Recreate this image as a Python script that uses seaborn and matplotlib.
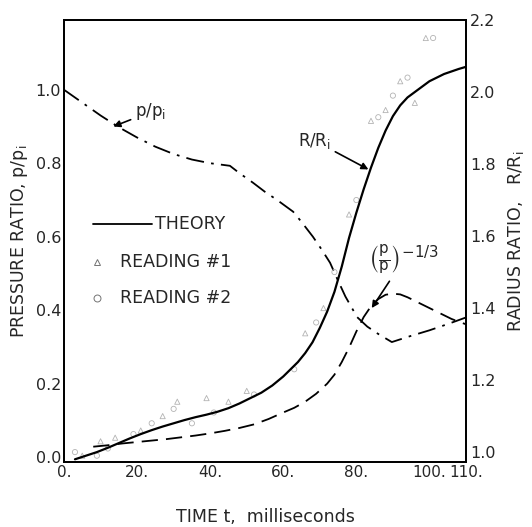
import numpy as np
import matplotlib
matplotlib.use('Agg')
import matplotlib.pyplot as plt
import matplotlib.transforms as mtransforms
import seaborn as sns

# curve values

t_pressure = [0, 5, 10, 15, 20, 25, 30, 35, 40, 45.4, 48, 51.7, 55, 58.3, 62.7, 65, 68.1,
              70.5, 72.8, 75, 77, 80.2, 83, 86, 89.7, 95, 100, 105, 110]
p_ratio = [1.0, 0.965, 0.93, 0.898, 0.87, 0.845, 0.825, 0.81, 0.80, 0.793, 0.773, 0.747, 0.722,
           0.70, 0.668, 0.64, 0.60, 0.565, 0.529, 0.48, 0.437, 0.381, 0.355, 0.335, 0.313,
           0.33, 0.345, 0.362, 0.38]

t_radius = [3, 6, 9, 12, 15, 18, 21, 24, 27, 30, 33, 36, 39, 42, 45, 48, 51, 54, 57, 60, 62, 64,
            66, 68, 70, 72, 74, 76, 78, 80, 82, 84, 86, 88, 90, 92, 94, 96, 98, 100, 102, 104,
            106, 108, 110]
r_ratio = [0.98, 0.99, 1.0, 1.012, 1.025, 1.038, 1.05, 1.061, 1.071, 1.08, 1.089, 1.097, 1.104,
           1.112, 1.122, 1.135, 1.15, 1.165, 1.185, 1.21, 1.23, 1.25, 1.275, 1.305, 1.345, 1.39,
           1.445, 1.515, 1.595, 1.665, 1.73, 1.79, 1.845, 1.893, 1.933, 1.963, 1.985, 2.0, 2.015,
           2.03, 2.04, 2.05, 2.057, 2.064, 2.07]

t_pbar = [8, 12, 16, 20, 24, 28, 32, 36, 40, 44, 48, 52, 56, 60, 63, 66, 69, 72, 74, 76, 78, 80,
          82, 84, 86, 88, 90, 92, 94, 96, 98, 100, 102, 104, 106, 108, 110]
pbar_ratio = [1.015, 1.019, 1.024, 1.028, 1.032, 1.036, 1.041, 1.046, 1.052, 1.059, 1.067, 1.077,
              1.092, 1.11, 1.123, 1.14, 1.162, 1.19, 1.215, 1.25, 1.29, 1.335, 1.375, 1.405,
              1.425, 1.437, 1.44, 1.438, 1.43, 1.42, 1.41, 1.40, 1.39, 1.38, 1.37, 1.362, 1.355]

# test readings (faint in the original)

t_read1 = [5, 10, 14, 21, 27, 31, 39, 45, 50, 66, 71, 78, 84, 88, 92, 96, 99]
r_read1 = [0.99, 1.03, 1.04, 1.06, 1.10, 1.14, 1.15, 1.14, 1.17, 1.33, 1.40, 1.66, 1.92, 1.95, 2.03, 1.97, 2.15]
t_read2 = [3, 9, 12, 19, 24, 30, 35, 41, 52, 63, 69, 74, 80, 86, 90, 94, 101]
r_read2 = [1.0, 0.99, 1.01, 1.05, 1.08, 1.12, 1.08, 1.11, 1.16, 1.23, 1.36, 1.50, 1.70, 1.93, 1.99, 2.04, 2.15]

x_ticks = [0, 20, 40, 60, 80, 100, 110]
x_ticklabels = ['0.', '20.', '40.', '60.', '80.', '100.', '110.']
left_ticks = [0.0, 0.2, 0.4, 0.6, 0.8, 1.0]
right_ticks = [1.0, 1.2, 1.4, 1.6, 1.8, 2.0, 2.2]

sns.set_style('white')
plt.rcParams['font.family'] = ['DejaVu Sans']
plt.rcParams['mathtext.fontset'] = 'dejavusans'

fig = plt.figure(figsize=(5.32, 5.27), dpi=100)
ax = fig.add_axes([64 / 532, 65 / 527, 402 / 532, 442 / 527])
ax2 = ax.twinx()

# pressure ratio, dash-dot on the left axis
sns.lineplot(x=t_pressure, y=p_ratio, ax=ax, color='black', lw=1.3,
             linestyle=(0, (10, 4, 1.5, 4)), sort=False)

# radius ratio theory and pressure term on the right axis
sns.lineplot(x=t_radius, y=r_ratio, ax=ax2, color='black', lw=1.6, sort=False)
sns.lineplot(x=t_pbar, y=pbar_ratio, ax=ax2, color='black', lw=1.3,
             linestyle=(0, (9, 4.5)), sort=False)

sns.scatterplot(x=t_read1, y=r_read1, ax=ax2, marker='^', s=14,
                facecolors='none', edgecolor='0.7', linewidth=0.6)
sns.scatterplot(x=t_read2, y=r_read2, ax=ax2, marker='o', s=14,
                facecolors='none', edgecolor='0.7', linewidth=0.6)

ax.set_xlim(0, 110)
ax.set_ylim(-0.0136, 1.19)
ax2.set_ylim(0.9725, 2.186)

ax.set_xticks(x_ticks)
ax.set_xticklabels(x_ticklabels, fontsize=11)
offsets = [5, 4, 5, 5, 6, -6, 12]
for lab, dx in zip(ax.get_xticklabels(), offsets):
    lab.set_transform(lab.get_transform() + mtransforms.ScaledTranslation(dx / 100, 0, fig.dpi_scale_trans))

ax.set_yticks(left_ticks)
ax.set_yticklabels([f'{v:.1f}' for v in left_ticks], fontsize=11.5)
ax2.set_yticks(right_ticks)
ax2.set_yticklabels([f'{v:.1f}' for v in right_ticks], fontsize=11.5)

ax.tick_params(axis='both', length=0, pad=2)
ax2.tick_params(axis='y', length=0, pad=3)

for a in (ax, ax2):
    for s in a.spines.values():
        s.set_color('black')
        s.set_linewidth(1.3)

ax.set_xlabel('TIME t,  milliseconds', fontsize=12.5, labelpad=20)
ax.set_ylabel('PRESSURE RATIO, p/p$_{\\mathrm{i}}$', fontsize=12.5, labelpad=4)
ax2.set_ylabel('RADIUS RATIO,   R/R$_{\\mathrm{i}}$', fontsize=12.5, labelpad=7)

# legend drawn by hand as in the original
ax.plot([0.072, 0.219], [0.538, 0.538], transform=ax.transAxes, color='black', lw=1.3)
ax.text(0.226, 0.538, 'THEORY', transform=ax.transAxes, fontsize=12.5, va='center')
ax.plot([0.082], [0.452], transform=ax.transAxes, marker='^', ms=5, mfc='none', mec='0.45', mew=0.7)
ax.text(0.139, 0.452, 'READING #1', transform=ax.transAxes, fontsize=12.5, va='center')
ax.plot([0.082], [0.371], transform=ax.transAxes, marker='o', ms=5, mfc='none', mec='0.45', mew=0.7)
ax.text(0.139, 0.371, 'READING #2', transform=ax.transAxes, fontsize=12.5, va='center')

arrow = dict(arrowstyle='-|>', color='black', lw=1.2, mutation_scale=10, shrinkA=1, shrinkB=0)
ax.annotate('p/p$_{\\mathrm{i}}$', xy=(13.5, 0.9), xytext=(19.5, 0.94),
            fontsize=12, ha='left', va='center', arrowprops=arrow)
ax2.annotate('R/R$_{\\mathrm{i}}$', xy=(83.3, 1.785), xytext=(68.5, 1.865),
             fontsize=12, ha='center', va='center', arrowprops=arrow)
ax2.annotate('$\\left(\\frac{\\mathrm{p}}{\\mathrm{p}}\\right)^{-1/3}$', xy=(84.2, 1.40), xytext=(93, 1.535),
             fontsize=15.5, ha='center', va='center', arrowprops=arrow)

plt.savefig('out.png', dpi=100)
